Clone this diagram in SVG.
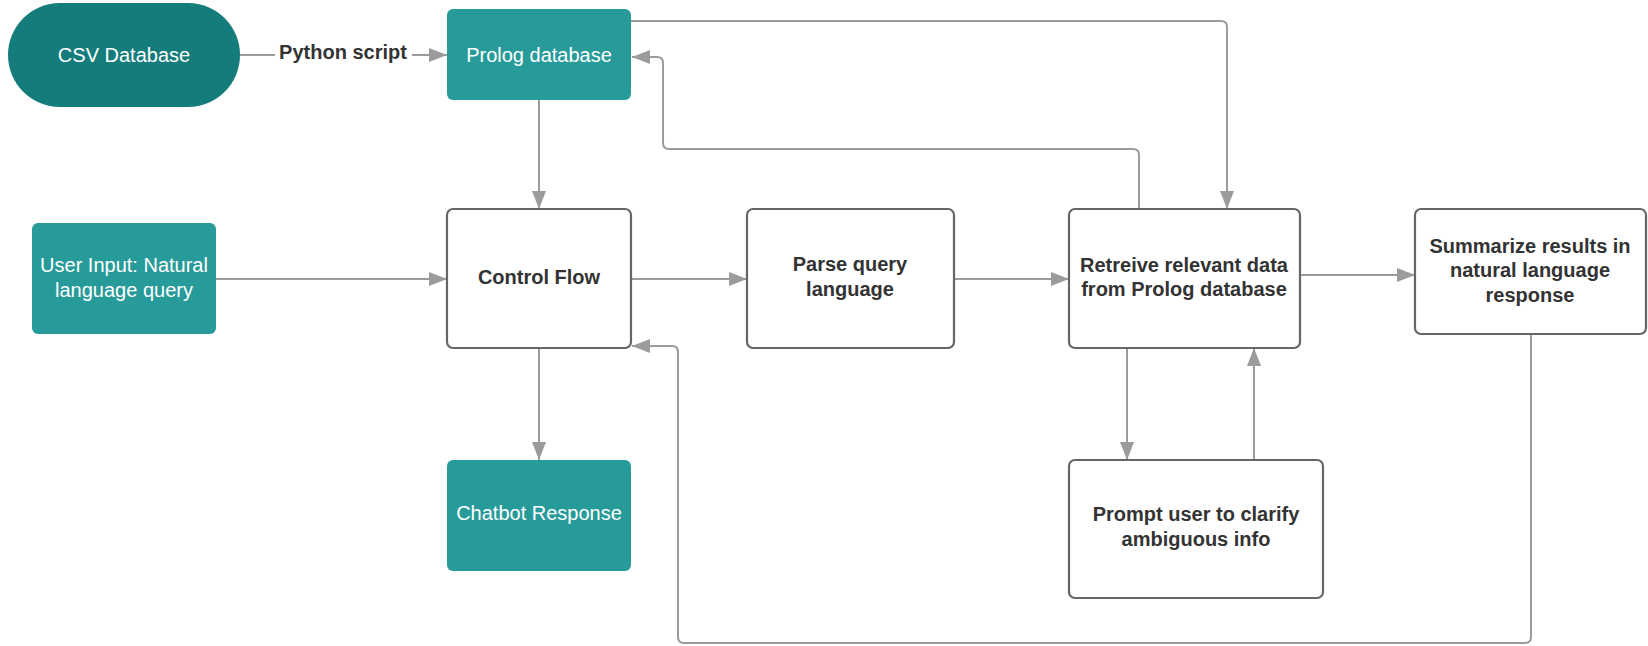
<svg xmlns="http://www.w3.org/2000/svg" width="1648" height="646" viewBox="0 0 1648 646">
<style>
.bg{fill:#ffffff}
.dark{fill:#147c7b}
.teal{fill:#279b99}
.box{fill:#ffffff;stroke:#666666;stroke-width:2.2}
.wt{font-family:"Liberation Sans",Arial,sans-serif;font-size:20px;fill:#ffffff;text-anchor:middle}
.bt{font-family:"Liberation Sans",Arial,sans-serif;font-size:20px;font-weight:bold;fill:#333333;text-anchor:middle}
.conn{fill:none;stroke:#9b9b9b;stroke-width:2}
</style>
<defs>
<marker id="arr" markerUnits="userSpaceOnUse" markerWidth="20" markerHeight="14" refX="18" refY="7" orient="auto">
<path d="M0,0 L18,7 L0,14 Z" fill="#9b9b9b"/>
</marker>
</defs>
<rect class="bg" x="0" y="0" width="1648" height="646"/>
<g id="connectors">
<path class="conn" d="M240 55 H447" marker-end="url(#arr)"/>
<path class="conn" d="M539 100 V209" marker-end="url(#arr)"/>
<path class="conn" d="M216 279 H447" marker-end="url(#arr)"/>
<path class="conn" d="M631 279 H747" marker-end="url(#arr)"/>
<path class="conn" d="M954 279 H1069" marker-end="url(#arr)"/>
<path class="conn" d="M1300 275 H1415" marker-end="url(#arr)"/>
<path class="conn" d="M631 21 H1221 Q1227 21 1227 27 V209" marker-end="url(#arr)"/>
<path class="conn" d="M1139 209 V155 Q1139 149 1133 149 H669 Q663 149 663 143 V63 Q663 57 657 57 H632" marker-end="url(#arr)"/>
<path class="conn" d="M1127 348 V460" marker-end="url(#arr)"/>
<path class="conn" d="M1254 460 V348" marker-end="url(#arr)"/>
<path class="conn" d="M1531 335 V637 Q1531 643 1525 643 H684 Q678 643 678 637 V352 Q678 346 672 346 H632" marker-end="url(#arr)"/>
<path class="conn" d="M539 348 V460" marker-end="url(#arr)"/>
<rect x="275" y="40" width="137" height="28" fill="#ffffff"/>
<text class="bt" x="343" y="59">Python script</text>
</g>
<g id="csv-database">
<rect class="dark" x="8" y="3" width="232" height="104" rx="52" ry="52"/>
<text class="wt" x="124" y="62">CSV Database</text>
</g>
<g id="prolog-database">
<rect class="teal" x="447" y="9" width="184" height="91" rx="6"/>
<text class="wt" x="539" y="62">Prolog database</text>
</g>
<g id="user-input">
<rect class="teal" x="32" y="223" width="184" height="111" rx="6"/>
<text class="wt" x="124" y="272">User Input: Natural</text>
<text class="wt" x="124" y="297">language query</text>
</g>
<g id="control-flow">
<rect class="box" x="447" y="209" width="184" height="139" rx="6"/>
<text class="bt" x="539" y="284">Control Flow</text>
</g>
<g id="parse-query">
<rect class="box" x="747" y="209" width="207" height="139" rx="6"/>
<text class="bt" x="850" y="271">Parse query</text>
<text class="bt" x="850" y="296">language</text>
</g>
<g id="retrieve-data">
<rect class="box" x="1069" y="209" width="231" height="139" rx="6"/>
<text class="bt" x="1184" y="272">Retreive relevant data</text>
<text class="bt" x="1184" y="296">from Prolog database</text>
</g>
<g id="summarize">
<rect class="box" x="1415" y="209" width="231" height="125" rx="6"/>
<text class="bt" x="1530" y="253">Summarize results in</text>
<text class="bt" x="1530" y="277">natural language</text>
<text class="bt" x="1530" y="302">response</text>
</g>
<g id="prompt-user">
<rect class="box" x="1069" y="460" width="254" height="138" rx="6"/>
<text class="bt" x="1196" y="521">Prompt user to clarify</text>
<text class="bt" x="1196" y="546">ambiguous info</text>
</g>
<g id="chatbot-response">
<rect class="teal" x="447" y="460" width="184" height="111" rx="6"/>
<text class="wt" x="539" y="520">Chatbot Response</text>
</g>
</svg>
